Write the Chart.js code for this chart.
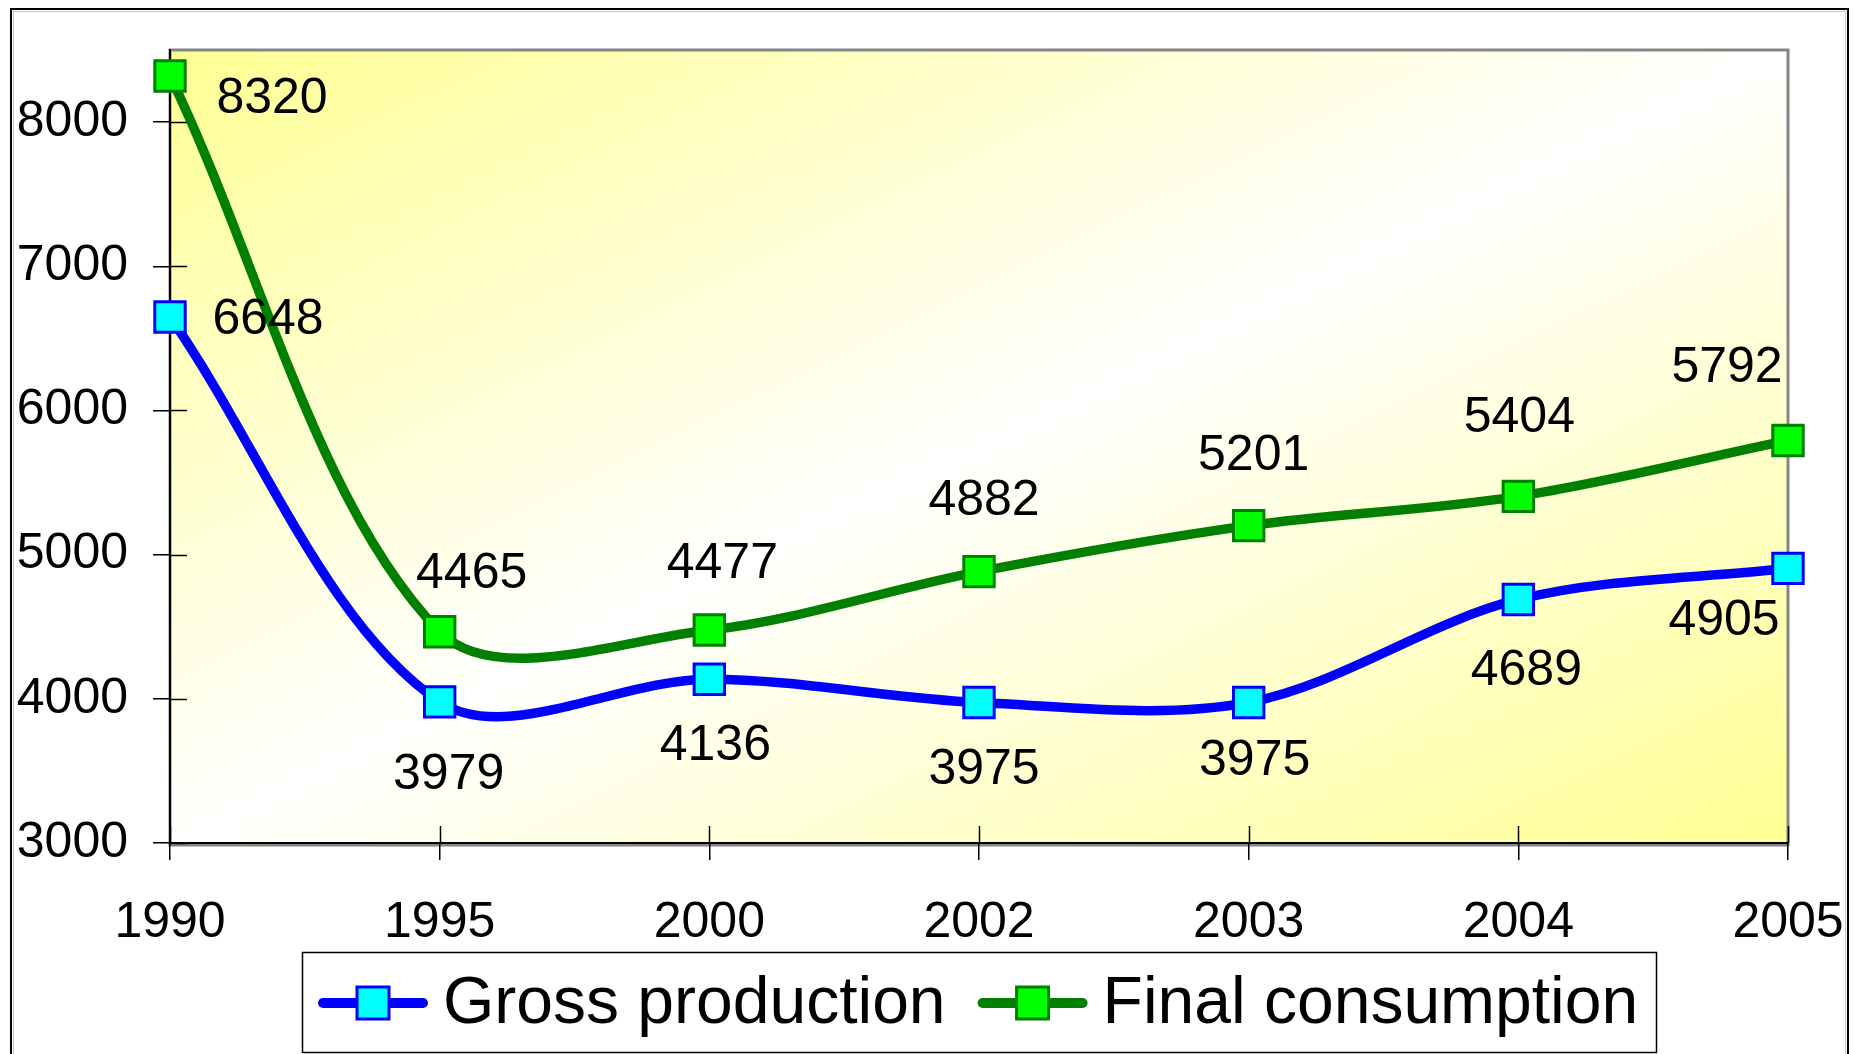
<!DOCTYPE html>
<html>
<head>
<meta charset="utf-8">
<title>Gross production and final consumption</title>
<script src="https://cdn.jsdelivr.net/npm/chart.js@4/dist/chart.umd.min.js"></script>
<style>
  html, body { margin: 0; padding: 0; background: #ffffff; }
  #c { display: block; }
</style>
</head>
<body>
<canvas id="c" width="1859" height="1054"></canvas>
<script>
// ---- data ----
const years = ['1990', '1995', '2000', '2002', '2003', '2004', '2005'];
const grossProduction = [6648, 3979, 4136, 3975, 3975, 4689, 4905];
const finalConsumption = [8320, 4465, 4477, 4882, 5201, 5404, 5792];
const yTickValues = [3000, 4000, 5000, 6000, 7000, 8000];
const seriesNames = ['Gross production', 'Final consumption'];

// ---- styling ----
const FONT = "'Liberation Sans', Arial, sans-serif";
const labelFontSize = 50;
const legendFontSize = 66;
// where each value label sits relative to its marker (px)
const grossLabelOffsets = [[98, 3], [9, 73], [6, 67], [5, 68], [6, 59], [8, 72], [-64, 53]];
const finalLabelOffsets = [[102, 23], [32, -58], [13, -66], [5, -70], [5, -69], [1, -78], [-61, -72]];

const series = [
  { name: seriesNames[0], data: grossProduction, line: '#0000ff', fill: '#00ffff', offsets: grossLabelOffsets },
  { name: seriesNames[1], data: finalConsumption, line: '#008000', fill: '#00ff00', offsets: finalLabelOffsets }
];

// Frame, gradient plot background and gray plot border
const backdrop = {
  id: 'backdrop',
  beforeDraw(chart) {
    const { ctx, chartArea: a } = chart;
    ctx.save();
    ctx.fillStyle = '#ffffff';
    ctx.fillRect(0, 0, chart.width, chart.height);
    ctx.strokeStyle = '#000000';
    ctx.lineWidth = 2;
    ctx.strokeRect(11, 9, 1837, 1060);
    ctx.strokeStyle = '#c8c8c8';
    ctx.lineWidth = 1;
    ctx.strokeRect(13.5, 11.5, 1832, 1060);

    const W = a.right - a.left, H = a.bottom - a.top;
    const cx = (a.left + a.right) / 2, cy = (a.top + a.bottom) / 2;
    const len = Math.hypot(W, H);
    const nx = H / len, ny = W / len, d = W * H / len;
    const g = ctx.createLinearGradient(cx - nx * d, cy - ny * d, cx + nx * d, cy + ny * d);
    g.addColorStop(0, '#ffff94');
    g.addColorStop(0.5, '#ffffff');
    g.addColorStop(1, '#ffff94');
    ctx.fillStyle = g;
    ctx.fillRect(a.left, a.top, W, H);

    ctx.strokeStyle = '#858585';
    ctx.lineWidth = 3;
    ctx.strokeRect(a.left, a.top, W, H + 2);
    ctx.restore();
  }
};

// Tick marks cross the axes: the inner half is drawn here
const innerTicks = {
  id: 'innerTicks',
  beforeDatasetsDraw(chart) {
    const { ctx, chartArea: a, scales } = chart;
    ctx.save();
    ctx.strokeStyle = '#000000';
    ctx.lineWidth = 1.5;
    ctx.beginPath();
    yTickValues.forEach(v => {
      const y = Math.round(scales.y.getPixelForValue(v)) + 0.5;
      ctx.moveTo(a.left, y);
      ctx.lineTo(a.left + 17, y);
    });
    years.forEach((_, i) => {
      const x = Math.round(scales.x.getPixelForValue(i)) + 0.5;
      ctx.moveTo(x, a.bottom);
      ctx.lineTo(x, a.bottom - 17);
    });
    ctx.stroke();
    ctx.restore();
  }
};

// Value labels next to each marker
const valueLabels = {
  id: 'valueLabels',
  afterDatasetsDraw(chart) {
    const { ctx } = chart;
    ctx.save();
    ctx.font = labelFontSize + 'px ' + FONT;
    ctx.fillStyle = '#000000';
    ctx.textAlign = 'center';
    ctx.textBaseline = 'middle';
    chart.data.datasets.forEach((ds, di) => {
      const meta = chart.getDatasetMeta(di);
      const offs = series[di].offsets;
      meta.data.forEach((pt, i) => {
        ctx.fillText(String(ds.data[i]), pt.x + offs[i][0], pt.y + offs[i][1]);
      });
    });
    ctx.restore();
  }
};

// Boxed legend with line-and-marker keys
const boxLegend = {
  id: 'boxLegend',
  afterDraw(chart) {
    const { ctx } = chart;
    const box = { x: 302, y: 952, w: 1354, h: 100 };
    const cy = 1003;
    ctx.save();
    ctx.fillStyle = '#ffffff';
    ctx.fillRect(box.x, box.y, box.w, box.h);
    ctx.strokeStyle = '#000000';
    ctx.lineWidth = 1.5;
    ctx.strokeRect(box.x + 0.5, box.y + 0.5, box.w, box.h);
    ctx.font = legendFontSize + 'px ' + FONT;
    ctx.textBaseline = 'middle';
    ctx.textAlign = 'left';
    let x = 318;
    series.forEach((s, i) => {
      ctx.strokeStyle = s.line;
      ctx.lineWidth = 10;
      ctx.lineCap = 'round';
      ctx.beginPath();
      ctx.moveTo(x + 5, cy);
      ctx.lineTo(x + 105, cy);
      ctx.stroke();
      ctx.fillStyle = s.fill;
      ctx.lineWidth = 3;
      ctx.fillRect(x + 39, cy - 16, 32, 32);
      ctx.strokeRect(x + 39, cy - 16, 32, 32);
      ctx.fillStyle = '#000000';
      ctx.fillText(s.name, x + 125, cy + 2);
      x += 125 + ctx.measureText(s.name).width + 32;
    });
    ctx.restore();
  }
};

const chart = new Chart(document.getElementById('c'), {
  type: 'line',
  data: {
    labels: years,
    datasets: series.map(s => ({
      label: s.name,
      data: s.data,
      borderColor: s.line,
      backgroundColor: s.fill,
      borderWidth: 9.5,
      borderCapStyle: 'round',
      borderJoinStyle: 'round',
      tension: 0.33,
      fill: false,
      clip: false,
      pointStyle: 'rect',
      pointRadius: 21.5,
      pointHoverRadius: 21.5,
      pointBackgroundColor: s.fill,
      pointBorderColor: s.line,
      pointBorderWidth: 3
    }))
  },
  options: {
    responsive: false,
    devicePixelRatio: 1,
    animation: false,
    events: [],
    layout: { padding: { top: 50, right: 71, left: 0, bottom: 0 } },
    plugins: {
      legend: { display: false },
      tooltip: { enabled: false },
      title: { display: false }
    },
    scales: {
      x: {
        type: 'category',
        offset: false,
        afterFit(scale) {
          scale.height = 211;
          scale.paddingLeft = 0;
          scale.paddingRight = 0;
        },
        grid: { drawOnChartArea: false, drawTicks: true, tickLength: 17, color: '#000000', lineWidth: 1.5 },
        border: { display: true, color: '#000000', width: 2 },
        ticks: {
          color: '#000000',
          font: { family: FONT, size: labelFontSize },
          padding: 33,
          maxRotation: 0,
          autoSkip: false
        }
      },
      y: {
        min: 3000,
        max: 8500,
        afterFit(scale) {
          scale.width = 170;
          scale.paddingTop = 0;
          scale.paddingBottom = 0;
        },
        afterBuildTicks(scale) { scale.ticks = yTickValues.map(v => ({ value: v })); },
        grid: { drawOnChartArea: false, drawTicks: true, tickLength: 17, color: '#000000', lineWidth: 1.5 },
        border: { display: true, color: '#000000', width: 2 },
        ticks: {
          color: '#000000',
          font: { family: FONT, size: labelFontSize },
          padding: 25,
          callback: v => String(v)
        }
      }
    }
  },
  plugins: [backdrop, innerTicks, valueLabels, boxLegend]
});
</script>
</body>
</html>
